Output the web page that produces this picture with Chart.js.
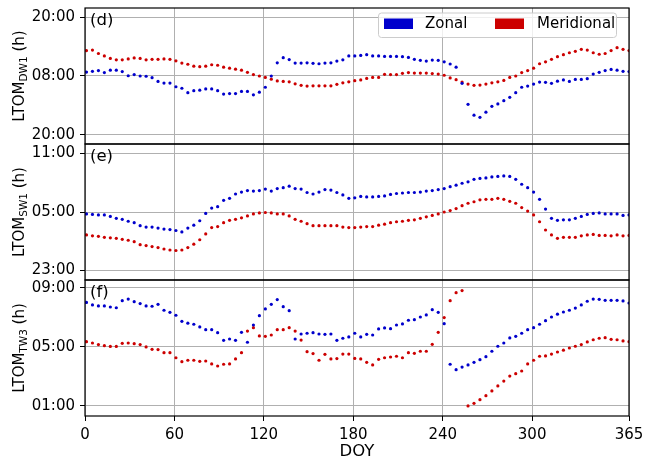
<!DOCTYPE html>
<html>
<head>
<meta charset="utf-8">
<script src="https://cdn.jsdelivr.net/npm/chart.js@4.4.0/dist/chart.umd.min.js"></script>
<style>
  html, body { margin: 0; padding: 0; background: #fff; }
  #wrap { width: 656px; height: 464px; position: relative; }
</style>
</head>
<body>
<div id="wrap"><canvas id="ltom-chart"></canvas></div>
<script>
// day of year of each sample (every 4 days)
var doy = [
  1, 5, 9, 13, 17, 21, 25, 29, 33, 37,
  41, 45, 49, 53, 57, 61, 65, 69, 73, 77,
  81, 85, 89, 93, 97, 101, 105, 109, 113, 117,
  121, 125, 129, 133, 137, 141, 145, 149, 153, 157,
  161, 165, 169, 173, 177, 181, 185, 189, 193, 197,
  201, 205, 209, 213, 217, 221, 225, 229, 233, 237,
  241, 245, 249, 253, 257, 261, 265, 269, 273, 277,
  281, 285, 289, 293, 297, 301, 305, 309, 313, 317,
  321, 325, 329, 333, 337, 341, 345, 349, 353, 357,
  361, 365
];
var doy_ticks = [0, 60, 120, 180, 240, 300, 365];

// LTOM in hours (values below 0 wrap to the previous day)
var zonal_dw1 = [
  8.8, 8.95, 9.1, 8.7, 9.2, 9.2, 8.9, 8.05, 8.3, 8.0,
  7.95, 7.65, 6.9, 6.55, 6.55, 5.8, 5.5, 4.6, 5.0, 5.1,
  5.35, 5.35, 5.0, 4.3, 4.4, 4.4, 4.85, 4.85, 4.15, 4.7,
  5.7, 8.0, 10.7, 11.75, 11.35, 10.65, 10.65, 10.7, 10.6, 10.5,
  10.65, 10.7, 11.05, 11.3, 12.1, 12.1, 12.2, 12.35, 12.1, 12.1,
  12.0, 12.0, 12.0, 11.95, 11.8, 11.4, 11.2, 11.05, 11.25, 11.2,
  10.9, 10.45, 9.8, 6.5, 2.2, 0.0, -0.45, 0.6, 1.8, 2.3,
  2.95, 3.65, 4.6, 5.7, 5.95, 6.35, 6.75, 6.7, 6.5, 6.95,
  7.2, 6.9, 7.3, 7.3, 7.45, 8.4, 8.75, 9.1, 9.35, 9.2,
  8.95, 8.9
];
var merid_dw1 = [
  13.2, 13.3, 12.6, 12.1, 11.6, 11.3, 11.3, 11.5, 11.7, 11.6,
  11.3, 11.4, 11.4, 11.5, 11.4, 11.1, 10.65, 10.4, 10.0, 9.9,
  10.0, 10.3, 10.2, 9.8, 9.6, 9.4, 9.2, 8.75, 8.3, 8.0,
  7.7, 7.35, 7.0, 6.9, 6.8, 6.4, 6.1, 5.95, 6.0, 6.0,
  6.0, 6.0, 6.3, 6.6, 6.8, 7.05, 7.2, 7.5, 7.7, 7.7,
  8.35, 8.3, 8.3, 8.55, 8.7, 8.6, 8.6, 8.6, 8.5, 8.4,
  8.15, 7.6, 7.25, 6.75, 6.35, 6.1, 6.15, 6.35, 6.6, 6.8,
  7.1, 7.7, 8.0, 8.7, 9.1, 9.6, 10.5, 10.9, 11.4, 11.95,
  12.35, 12.75, 13.05, 13.45, 13.3, 12.75, 12.45, 12.6, 13.2, 13.8,
  13.45, 13.2
];
var zonal_sw1 = [
  4.8, 4.75, 4.7, 4.7, 4.55, 4.35, 4.25, 4.05, 3.9, 3.6,
  3.45, 3.45, 3.35, 3.25, 3.2, 3.1, 2.95, 3.35, 3.65, 4.1,
  4.85, 5.4, 5.55, 6.2, 6.4, 6.85, 7.05, 7.2, 7.15, 7.2,
  7.35, 7.15, 7.4, 7.5, 7.65, 7.4, 7.35, 7.0, 6.85, 7.05,
  7.3, 7.25, 7.0, 6.75, 6.4, 6.45, 6.6, 6.55, 6.55, 6.6,
  6.65, 6.8, 6.9, 6.95, 7.0, 7.0, 7.05, 7.15, 7.2, 7.3,
  7.4, 7.6, 7.75, 7.95, 8.1, 8.35, 8.45, 8.5, 8.6, 8.65,
  8.7, 8.65, 8.35, 7.85, 7.5, 7.05, 6.3, 5.3, 4.35, 4.15,
  4.2, 4.2, 4.35, 4.55, 4.75, 4.85, 4.9, 4.8, 4.8, 4.8,
  4.65, 4.7
];
var merid_sw1 = [
  2.65, 2.55, 2.5, 2.4, 2.35, 2.3, 2.2, 2.1, 1.95, 1.65,
  1.55, 1.45, 1.35, 1.2, 1.1, 1.05, 1.1, 1.35, 1.7, 2.15,
  2.75, 3.4, 3.5, 3.9, 4.15, 4.25, 4.4, 4.6, 4.8, 4.9,
  4.95, 4.9, 4.8, 4.8, 4.6, 4.25, 4.05, 3.8, 3.6, 3.6,
  3.6, 3.6, 3.6, 3.45, 3.4, 3.4, 3.45, 3.5, 3.5, 3.65,
  3.75, 3.9, 4.0, 4.05, 4.15, 4.2, 4.35, 4.5, 4.65, 4.8,
  5.0, 5.15, 5.35, 5.65, 5.9, 6.05, 6.25, 6.3, 6.3, 6.4,
  6.3, 6.1, 5.9, 5.45, 5.1, 4.7, 4.0, 3.15, 2.65, 2.3,
  2.4, 2.4, 2.4, 2.55, 2.65, 2.7, 2.6, 2.6, 2.55, 2.65,
  2.55, 2.6
];
var zonal_tw3 = [
  8.0, 7.83, 7.76, 7.76, 7.69, 7.64, 8.12, 8.23, 8.05, 7.92,
  7.76, 7.74, 7.87, 7.47, 7.33, 7.13, 6.72, 6.59, 6.52, 6.34,
  6.15, 6.15, 5.95, 5.43, 5.52, 5.43, 5.97, 5.3, 6.47, 7.1,
  7.56, 7.87, 8.19, 7.71, 7.44, 5.52, 5.86, 5.91, 5.95, 5.86,
  5.84, 5.86, 5.43, 5.57, 5.66, 5.91, 5.66, 5.84, 5.79, 6.2,
  6.27, 6.22, 6.47, 6.54, 6.79, 6.83, 7.01, 7.15, 7.51, 7.33,
  6.56, 3.81, 3.44, 3.62, 3.76, 3.94, 4.12, 4.32, 4.69, 5.03,
  5.25, 5.59, 5.7, 5.91, 6.15, 6.29, 6.52, 6.76, 7.01, 7.2,
  7.35, 7.47, 7.62, 7.83, 8.08, 8.23, 8.21, 8.14, 8.14, 8.14,
  8.1, 7.96
];
var merid_tw3 = [
  5.34, 5.25, 5.14, 5.07, 5.02, 5.02, 5.23, 5.25, 5.2, 5.14,
  4.98, 4.82, 4.8, 4.59, 4.59, 4.25, 3.98, 4.08, 4.08, 4.01,
  4.03, 3.83, 3.69, 3.81, 3.83, 4.17, 4.59, 6.06, 6.29, 5.73,
  5.7, 5.79, 6.15, 6.15, 6.29, 6.06, 5.45, 4.66, 4.53, 4.08,
  4.48, 4.17, 4.19, 4.5, 4.5, 4.2, 4.17, 3.94, 3.76, 4.14,
  4.25, 4.3, 4.35, 4.25, 4.59, 4.55, 4.69, 4.69, 5.16, 5.97,
  6.97, 8.12, 8.66, 8.8, 0.98, 1.16, 1.41, 1.68, 2.0, 2.34,
  2.67, 3.01, 3.17, 3.35, 3.83, 4.08, 4.35, 4.37, 4.5, 4.64,
  4.76, 4.91, 5.03, 5.14, 5.32, 5.47, 5.57, 5.61, 5.5, 5.47,
  5.39, 5.34
];

var panel_ids = ['ydw1', 'ysw1', 'ytw3'];
var panel_tags = ['(d)', '(e)', '(f)'];
var panel_subs = ['DW1', 'SW1', 'TW3'];
var panel_ticks = [[-4, 8, 20], [-1, 5, 11], [1, 5, 9]];
var panel_limits = [[-5.9, 21.9], [-1.98, 11.98], [0.3, 9.52]];
var series_names = ['Zonal', 'Meridional'];

var blue = '#0000cc';
var red = '#cc0000';
var font_family = '"DejaVu Sans", sans-serif';

Chart.defaults.font.family = font_family;
Chart.defaults.color = '#000';

function hhmm(v)
{
  var h = ((Math.round(v) % 24) + 24) % 24;
  return (h < 10 ? '0' : '') + h + ':00';
}

function points(vals)
{
  return vals.map(function (v, i) { return {x: doy[i], y: v}; });
}

function dots(vals, colour, axis)
{
  return {
    data: points(vals),
    yAxisID: axis,
    showLine: false,
    pointRadius: 1.6,
    pointHoverRadius: 1.6,
    pointBorderWidth: 0,
    pointBackgroundColor: colour,
    borderColor: colour,
    backgroundColor: colour
  };
}

function panel_scale(k)
{
  return {
    type: 'linear',
    position: 'left',
    stack: 'ltom',
    stackWeight: 1,
    weight: 3 - k,
    min: panel_limits[k][0],
    max: panel_limits[k][1],
    afterBuildTicks: function (s) { s.ticks = panel_ticks[k].map(function (v) { return {value: v}; }); },
    afterFit: function (s) { s.width = 85; s.paddingTop = 0; s.paddingBottom = 0; },
    ticks: { callback: hhmm, font: {size: 15}, padding: 5, color: '#000' },
    grid: { color: '#b0b0b0', tickColor: '#000', tickLength: 5, lineWidth: 1 },
    border: { display: false }
  };
}

function draw_ytitle(ctx, sub, cx, cy)
{
  var big = '15px ' + font_family;
  var small = '10.5px ' + font_family;
  ctx.save();
  ctx.translate(cx, cy);
  ctx.rotate(-Math.PI / 2);
  ctx.font = big;
  var w1 = ctx.measureText('LTOM').width;
  var w3 = ctx.measureText(' (h)').width;
  ctx.font = small;
  var w2 = ctx.measureText(sub).width;
  var x = -(w1 + w2 + w3) / 2;
  ctx.fillStyle = '#000';
  ctx.textAlign = 'left';
  ctx.textBaseline = 'alphabetic';
  ctx.font = big;
  ctx.fillText('LTOM', x, 0);
  x += w1;
  ctx.font = small;
  ctx.fillText(sub, x, 3.5);
  x += w2;
  ctx.font = big;
  ctx.fillText(' (h)', x, 0);
  ctx.restore();
}

// frames, panel tags, y titles and the legend box
var decorations = {
  id: 'decorations',
  afterDraw: function (chart)
  {
    var ctx = chart.ctx;
    var area = chart.chartArea;
    ctx.save();
    panel_ids.forEach(function (id, k) {
      var s = chart.scales[id];
      ctx.strokeStyle = '#000';
      ctx.lineWidth = 1.2;
      ctx.strokeRect(area.left, s.top, area.right - area.left, s.bottom - s.top);
      ctx.fillStyle = '#000';
      ctx.font = '16.5px ' + font_family;
      ctx.textAlign = 'left';
      ctx.textBaseline = 'alphabetic';
      ctx.fillText(panel_tags[k], area.left + 5, s.top + 17);
      draw_ytitle(ctx, panel_subs[k], 23.5, (s.top + s.bottom) / 2);
    });

    // legend, top right of the first panel
    var bx = area.right - 251, by = area.top + 4.5, bw = 238, bh = 24.5;
    ctx.beginPath();
    ctx.roundRect(bx + 0.5, by + 0.5, bw, bh, 3);
    ctx.fillStyle = 'rgba(255,255,255,0.8)';
    ctx.fill();
    ctx.strokeStyle = '#cccccc';
    ctx.lineWidth = 1;
    ctx.stroke();
    ctx.font = '15px ' + font_family;
    ctx.textBaseline = 'middle';
    ctx.fillStyle = blue;
    ctx.fillRect(bx + 6, by + 6, 29, 10.5);
    ctx.fillStyle = '#000';
    ctx.fillText(series_names[0], bx + 47, by + 12);
    ctx.fillStyle = red;
    ctx.fillRect(bx + 117, by + 6, 29, 10.5);
    ctx.fillStyle = '#000';
    ctx.fillText(series_names[1], bx + 159, by + 12);
    ctx.restore();
  }
};

var scales = {
  x: {
    type: 'linear',
    min: 0,
    max: 365,
    afterBuildTicks: function (s) { s.ticks = doy_ticks.map(function (v) { return {value: v}; }); },
    afterFit: function (s) { s.height = 48; s.paddingLeft = 0; s.paddingRight = 0; },
    ticks: { font: {size: 15}, padding: 5, color: '#000', maxRotation: 0, autoSkip: false },
    grid: { color: '#b0b0b0', tickColor: '#000', tickLength: 5, lineWidth: 1 },
    border: { display: false },
    title: { display: true, text: 'DOY', font: {size: 16.5}, padding: {top: 0, bottom: 2}, color: '#000' }
  }
};
panel_ids.forEach(function (id, k) { scales[id] = panel_scale(k); });

var ltom_chart = new Chart(document.getElementById('ltom-chart'), {
  type: 'scatter',
  data: {
    datasets: [
      dots(zonal_dw1, blue, 'ydw1'),
      dots(merid_dw1, red, 'ydw1'),
      dots(zonal_sw1, blue, 'ysw1'),
      dots(merid_sw1, red, 'ysw1'),
      dots(zonal_tw3, blue, 'ytw3'),
      dots(merid_tw3, red, 'ytw3')
    ]
  },
  options: {
    animation: false,
    responsive: true,
    maintainAspectRatio: false,
    layout: { padding: {top: 8, right: 27, bottom: 0, left: 0} },
    plugins: { legend: {display: false}, tooltip: {enabled: false} },
    scales: scales
  },
  plugins: [decorations]
});
</script>
</body>
</html>
